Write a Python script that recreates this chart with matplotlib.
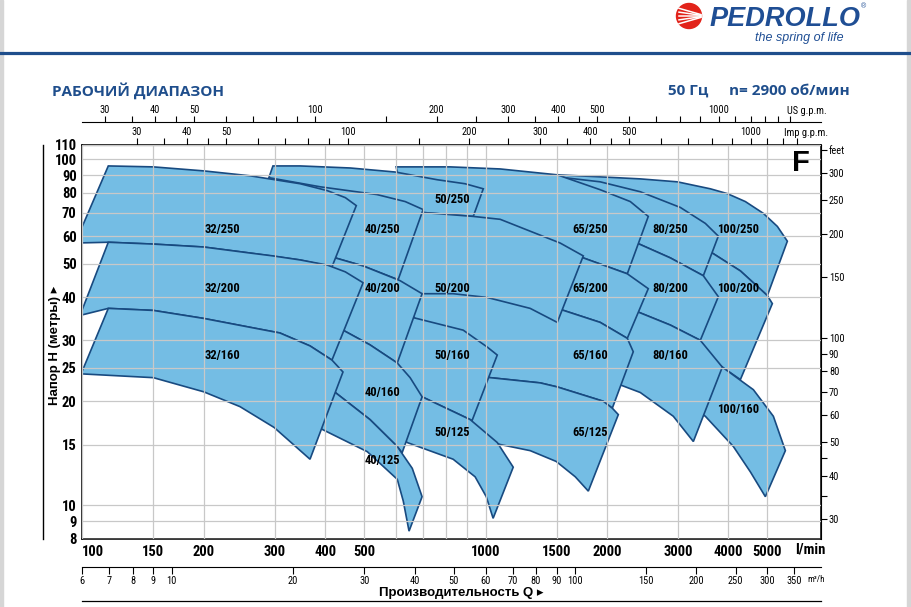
import matplotlib
matplotlib.use("Agg")
import matplotlib.pyplot as plt
from matplotlib.patches import Ellipse, Rectangle
from matplotlib.lines import Line2D
from matplotlib.ticker import NullLocator

NARROW = ['Roboto Condensed', 'Liberation Sans', 'DejaVu Sans']
SANS = ['Liberation Sans', 'DejaVu Sans']
TITLE_FONT = ['Open Sans', 'DejaVu Sans']
plt.rcParams['font.family'] = NARROW

BLUE = '#1f4e8c'
FILL = '#74bde4'
EDGE = '#184a80'
GRID = '#c8c8c8'

# ---------------- AXIS TICKS ---------------- #
flow_ticks = [100, 150, 200, 300, 400, 500, 600, 700, 800, 900, 1000, 1500, 2000, 3000, 4000, 5000]
flow_labels = ['100', '150', '200', '300', '400', '500', '', '', '', '', '1000', '1500', '2000',
               '3000', '4000', '5000']
head_ticks = [8, 9, 10, 15, 20, 25, 30, 40, 50, 60, 70, 80, 90, 100, 110]
us_gpm_ticks = [30, 35, 40, 45, 50, 60, 70, 80, 90, 100, 150, 200, 250, 300, 350, 400, 450, 500,
                600, 700, 800, 900, 1000, 1100, 1200, 1300, 1400, 1500]
imp_gpm_ticks = [30, 35, 40, 45, 50, 60, 70, 80, 90, 100, 150, 200, 250, 300, 350, 400, 450, 500,
                 600, 700, 800, 900, 1000, 1100, 1200, 1300]
gpm_labelled = [30, 40, 50, 100, 200, 300, 400, 500, 1000]
m3h_ticks = [6, 7, 8, 9, 10, 20, 30, 40, 50, 60, 70, 80, 90, 100, 150, 200, 250, 300, 350]
feet_ticks = [30, 35, 40, 45, 50, 60, 70, 80, 90, 100, 150, 200, 250, 300, 350]
feet_labels = ['30', '', '40', '', '50', '60', '70', '80', '90', '100', '150', '200', '250', '300', 'feet']

# ---------------- RANGES (Q l/min, H m) ---------------- #
# top = max impeller curve, bot = min impeller curve, both left -> right
r32_250_top = [(116, 95.7), (150, 95.1), (200, 92.6), (261, 89.6), (347, 85.0), (405, 81.2), (449, 77.5), (478, 73.5)]
r32_250_bot = [(96, 57.3), (116, 57.6), (150, 56.9), (200, 55.8), (261, 53.6), (347, 51.2), (416, 48.9)]
r32_200_top = [(116, 57.6), (150, 56.9), (200, 55.8), (261, 53.6), (297, 52.6), (347, 51.2), (405, 49.5), (449, 47.3), (497, 44.0)]
r32_200_bot = [(98.7, 35.4), (116, 37.1), (150, 36.6), (200, 34.7), (261, 32.7), (309, 31.5), (367, 28.9), (416, 26.3)]
r32_160_top = [(116, 37.1), (150, 36.6), (200, 34.7), (261, 32.7), (309, 31.5), (367, 28.9), (416, 26.3), (443, 24.3)]
r32_160_bot = [(99.3, 24.0), (150, 23.4), (200, 21.3), (246, 19.3), (299, 16.8), (367, 13.6)]

r40_250_top = [(292, 88.4), (389, 83.3), (538, 79.1), (632, 75.5), (700, 71.6)]
r40_250_bot = [(261, 56.9), (347, 54.3), (424, 51.9), (497, 49.2), (607, 44.9)]
r40_200_top = [(347, 54.3), (424, 51.9), (497, 49.2), (614, 44.6), (696, 40.9)]
r40_200_bot = [(347, 34.7), (389, 34.3), (443, 32.1), (517, 29.1), (604, 25.8)]
r40_160_top = [(389, 34.3), (443, 32.1), (517, 29.1), (604, 25.8), (650, 23.4), (696, 20.6)]
r40_160_bot = [(389, 22.3), (424, 21.2), (517, 17.7), (604, 14.8), (621, 14.2)]
r40_125_top = [(389, 22.3), (424, 21.2), (517, 17.7), (604, 14.8), (658, 12.8), (696, 10.6)]
r40_125_bot = [(347, 17.7), (393, 16.6), (509, 14.3), (604, 11.9), (625, 10.3), (646, 8.43)]

r50_250_top = [(297, 95.7), (347, 95.7), (462, 94.4), (597, 91.9), (759, 87.3), (890, 85.0), (987, 82.2)]
r50_250_bot = [(279, 77.5), (347, 76.0), (548, 72.6), (700, 70.2), (932, 68.4)]
r50_200_top = [(548, 72.6), (700, 70.2), (932, 68.4), (1087, 67.1), (1290, 62.0), (1531, 57.3), (1747, 52.6)]
r50_200_bot = [(614, 40.9), (696, 40.9), (831, 40.9), (1009, 39.9), (1290, 37.1), (1506, 33.8)]
r50_160_top = [(597, 35.4), (661, 34.9), (880, 32.1), (1009, 28.7), (1069, 27.2)]
r50_160_bot = [(580, 22.3), (696, 20.6), (926, 17.6)]
r50_125_top = [(614, 21.6), (696, 20.6), (916, 17.7), (1069, 15.2), (1171, 12.9)]
r50_125_bot = [(597, 16.6), (639, 15.2), (831, 13.6), (942, 12.1), (1004, 10.6), (1044, 9.18)]

r65_250_top = [(600, 95.1), (817, 95.1), (1087, 93.8), (1506, 90.2), (1924, 81.7), (2285, 75.5), (2532, 68.4)]
r65_250_bot = [(650, 64.0), (916, 64.0), (1290, 58.8), (1747, 51.9), (2246, 46.7)]
r65_200_top = [(650, 64.0), (916, 64.0), (1290, 58.8), (1747, 51.9), (2246, 46.7), (2532, 42.3)]
r65_200_bot = [(597, 42.3), (817, 42.0), (1087, 40.1), (1506, 37.1), (1924, 33.8), (2246, 30.4)]
r65_160_top = [(597, 42.3), (817, 42.0), (1087, 40.1), (1506, 37.1), (1924, 33.8), (2246, 30.4), (2324, 27.8)]
r65_160_bot = [(817, 24.3), (1027, 23.4), (1366, 22.6), (1506, 22.0), (1958, 20.0), (2062, 19.1)]
r65_125_top = [(817, 24.3), (1027, 23.4), (1366, 22.6), (1506, 22.0), (1958, 20.0), (2062, 19.1), (2134, 18.3)]
r65_125_bot = [(916, 16.1), (1087, 15.0), (1290, 14.4), (1497, 13.4), (1669, 12.1), (1798, 11.0)]

r80_250_top = [(1151, 87.3), (1506, 89.0), (1924, 86.1), (2419, 80.6), (3041, 72.6), (3507, 65.3), (3777, 60.0)]
r80_250_bot = [(1027, 54.3), (1366, 58.0), (1924, 59.6), (2405, 56.9), (2872, 51.9), (3467, 46.1)]
r80_200_top = [(1531, 61.2), (1924, 59.6), (2405, 56.9), (2872, 51.9), (3467, 46.1), (3777, 40.1)]
r80_200_bot = [(1406, 39.1), (1531, 39.6), (1924, 38.6), (2405, 36.1), (2872, 33.2), (3408, 30.0)]
r80_160_top = [(1531, 39.6), (1924, 38.6), (2405, 36.1), (2872, 33.2), (3408, 30.0), (3864, 25.1)]
r80_160_bot = [(1819, 23.4), (2158, 22.3), (2419, 21.2), (2921, 18.1), (3275, 15.3)]

r100_250_top = [(1366, 88.4), (1506, 90.2), (1924, 89.0), (2419, 87.8), (2989, 86.1), (3608, 82.2), (3977, 79.6),
                (4408, 75.5), (4885, 69.8), (5291, 64.0), (5602, 58.0)]
r100_250_bot = [(1254, 60.0), (1531, 61.2), (2158, 61.2), (3041, 58.0), (3650, 53.6), (4284, 47.6), (4998, 40.4)]
r100_200_top = [(1531, 61.2), (2158, 61.2), (3041, 58.0), (3650, 53.6), (4284, 47.6), (4998, 40.4), (5142, 38.3)]
r100_200_bot = [(2038, 34.7), (2561, 31.0), (3408, 27.8), (3864, 25.1), (4284, 23.1)]
r100_160_top = [(2038, 34.7), (2561, 31.0), (3408, 27.8), (3864, 25.1), (4614, 21.6), (5172, 18.1), (5539, 14.4)]
r100_160_bot = [(3041, 20.2), (3507, 18.1), (4116, 14.8), (4536, 12.5), (4941, 10.6)]

# drawing order: bigger pumps underneath
draw_order = [
    (r100_250_top, r100_250_bot), (r100_200_top, r100_200_bot), (r100_160_top, r100_160_bot),
    (r80_250_top, r80_250_bot), (r80_200_top, r80_200_bot), (r80_160_top, r80_160_bot),
    (r65_250_top, r65_250_bot), (r65_200_top, r65_200_bot), (r65_160_top, r65_160_bot), (r65_125_top, r65_125_bot),
    (r50_250_top, r50_250_bot), (r50_200_top, r50_200_bot), (r50_160_top, r50_160_bot), (r50_125_top, r50_125_bot),
    (r40_250_top, r40_250_bot), (r40_200_top, r40_200_bot), (r40_160_top, r40_160_bot), (r40_125_top, r40_125_bot),
    (r32_250_top, r32_250_bot), (r32_200_top, r32_200_bot), (r32_160_top, r32_160_bot),
]

pump_names = ['32/250', '32/200', '32/160', '40/250', '40/200', '40/160', '40/125',
              '50/250', '50/200', '50/160', '50/125', '65/250', '65/200', '65/160', '65/125',
              '80/250', '80/200', '80/160', '100/250', '100/200', '100/160']
name_q = [223, 223, 223, 554, 554, 554, 554, 827, 827, 827, 827, 1819, 1819, 1819, 1819,
          2873, 2873, 2873, 4237, 4237, 4237]
name_h = [62.8, 42.3, 27.2, 62.8, 42.3, 21.2, 13.5, 76.5, 42.3, 27.2, 16.3, 62.8, 42.3, 27.2, 16.3,
          62.8, 42.3, 27.2, 62.8, 42.3, 18.9]

# ---------------- FIGURE ---------------- #
W, H = 912, 607


def fig_xy(px, py):
    return px / W, 1 - py / H


fig = plt.figure(figsize=(W / 100, H / 100), dpi=100)
ax = fig.add_axes([82.3 / W, 1 - 539 / H, 739 / W, 394 / H])
ax.set_xscale('log')
ax.set_yscale('log')
ax.set_xlim(100, 6800)
ax.set_ylim(8, 110)

for i, (top, bot) in enumerate(draw_order):
    pts = list(top) + list(bot)[::-1]
    ax.fill([p[0] for p in pts], [p[1] for p in pts], facecolor=FILL, edgecolor=EDGE,
            lw=1.2, joinstyle='miter', zorder=1 + i * 0.01)

for name, q, h in zip(pump_names, name_q, name_h):
    ax.text(q, h, name, ha='center', va='center', fontsize=9, fontweight='bold', zorder=10)

ax.set_xticks(flow_ticks, labels=flow_labels)
ax.set_yticks(head_ticks, labels=[str(v) for v in head_ticks])
ax.xaxis.set_minor_locator(NullLocator())
ax.yaxis.set_minor_locator(NullLocator())
ax.tick_params(length=0, labelsize=10.5, pad=4)
for lab in ax.get_xticklabels() + ax.get_yticklabels():
    lab.set_fontweight('bold')
ax.get_xticklabels()[0].set_horizontalalignment('left')
ax.set_axisbelow(False)
ax.grid(True, color=GRID, lw=0.9)
for s in ax.spines.values():
    s.set_linewidth(1.1)

# US g.p.m. (upper) scale
us = ax.secondary_xaxis(1 + 23 / 394, functions=(lambda q: q / 3.785, lambda g: g * 3.785))
us.set_ticks(us_gpm_ticks, labels=[str(v) if v in gpm_labelled else '' for v in us_gpm_ticks])
us.xaxis.set_minor_locator(NullLocator())
us.tick_params(direction='out', length=4.3, width=0.8, pad=1, labelsize=7.5)

# Imp g.p.m. scale on top spine
imp = ax.secondary_xaxis('top', functions=(lambda q: q / 4.546, lambda g: g * 4.546))
imp.set_ticks(imp_gpm_ticks, labels=[str(v) if v in gpm_labelled else '' for v in imp_gpm_ticks])
imp.xaxis.set_minor_locator(NullLocator())
imp.tick_params(direction='out', length=5, width=0.8, pad=1, labelsize=7.5)

# m3/h scale below
m3 = ax.secondary_xaxis(-28 / 394, functions=(lambda q: q * 0.06, lambda m: m / 0.06))
m3.set_ticks(m3h_ticks, labels=[str(v) for v in m3h_ticks])
m3.xaxis.set_minor_locator(NullLocator())
m3.tick_params(direction='out', length=5, width=0.8, pad=1.5, labelsize=7.5)

# feet scale on the right
ft = ax.secondary_yaxis('right', functions=(lambda h: h * 3.2808, lambda f: f / 3.2808))
ft.set_ticks(feet_ticks, labels=feet_labels)
ft.yaxis.set_minor_locator(NullLocator())
ft.tick_params(direction='out', length=4, width=0.8, pad=1.5, labelsize=7.5)

# ---------------- TEXTS ---------------- #
fig.text(*fig_xy(807, 111), 'US g.p.m.', ha='center', va='center', fontsize=7.5)
fig.text(*fig_xy(806, 133), 'Imp g.p.m.', ha='center', va='center', fontsize=7.5)
fig.text(*fig_xy(816, 580), 'm³/h', ha='center', va='center', fontsize=6.5)
fig.text(*fig_xy(810, 549), 'l/min', ha='center', va='center', fontsize=10.5, fontweight='bold')
fig.text(*fig_xy(801, 163), 'F', ha='center', va='center', fontsize=21, fontweight='bold', family=SANS)

fig.text(*fig_xy(55, 345), 'Напор H (метры) ▸', rotation=90, ha='center', va='center',
         fontsize=9.5, fontweight='bold', family=SANS)
fig.text(*fig_xy(461, 593), 'Производительность Q ▸', ha='center', va='center',
         fontsize=9.5, fontweight='bold', family=SANS)

fig.text(*fig_xy(52, 91), 'РАБОЧИЙ ДИАПАЗОН', ha='left', va='center', fontsize=11,
         fontweight='bold', color=BLUE, family=TITLE_FONT)
fig.text(*fig_xy(708, 91), '50 Гц', ha='right', va='center', fontsize=11,
         fontweight='bold', color=BLUE, family=TITLE_FONT)
fig.text(*fig_xy(850, 91), 'n= 2900 об/мин', ha='right', va='center', fontsize=11,
         fontweight='bold', color=BLUE, family=TITLE_FONT)

# frame lines
fig.add_artist(Line2D([43 / W, 43 / W], [1 - 145 / H, 1 - 539 / H], color='black', lw=1))
fig.add_artist(Line2D([82.3 / W, 821.3 / W], [1 - 601 / H, 1 - 601 / H], color='black', lw=0.9))
fig.add_artist(Line2D([0, 910 / W], [1 - 53 / H, 1 - 53 / H], color=BLUE, lw=2.3))
fig.add_artist(Rectangle((0, 0), 3 / W, 1, transform=fig.transFigure, color='#d6d6d6'))
fig.add_artist(Rectangle((907 / W, 0), 5 / W, 1, transform=fig.transFigure, color='#d6d6d6'))

# logo
fig.add_artist(Ellipse(fig_xy(689, 16), 25 / W, 25 / H, transform=fig.transFigure, color='#e2231a'))
for dy in (-7, -3.5, 0, 3.5, 7):
    fig.add_artist(Line2D([679 / W, 701 / W], [1 - (16 + dy * 1.1) / H, 1 - (16 + dy * 0.2) / H],
                          color='white', lw=1.1))
fig.text(*fig_xy(710, 19), 'PEDROLLO', ha='left', va='center', fontsize=19.5, fontweight='bold',
         fontstyle='italic', color='#1f4e94', family=SANS)
fig.text(*fig_xy(864, 7), '®', ha='center', va='center', fontsize=5, color='#1f4e94', family=SANS)
fig.text(*fig_xy(799, 38), 'the spring of life', ha='center', va='center', fontsize=9,
         fontstyle='italic', color='#1f4e94', family=SANS)

fig.savefig('out.png', dpi=100)
